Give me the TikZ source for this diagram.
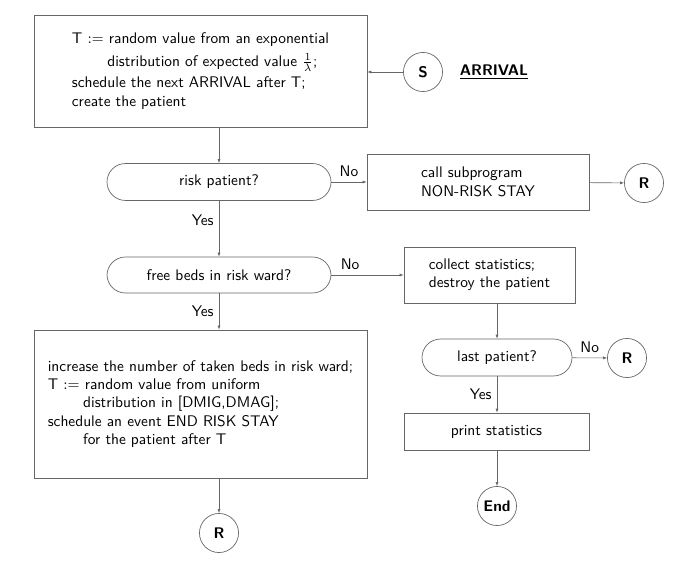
\documentclass[tikz,border=0pt]{standalone}
\usepackage{amsmath}
\usepackage{tikz}
\usetikzlibrary{calc}
\usetikzlibrary{arrows.meta}

\tikzset{
  every node/.style = {font = \sffamily},
  link/.style = {draw = black!60, line width = .4pt},
  arr/.style = {link, -{Latex[length = 2.6pt, width = 2pt]}},
  block/.style = {draw = black!60, line width = .45pt, rectangle,
    align = left, inner sep = 0pt},
  query/.style = {block, rounded corners = 12pt, align = center,
    minimum height = 24pt},
  connector/.style = {draw = black!60, line width = .45pt, circle,
    minimum size = 25.4pt, inner sep = 0pt, font = \sffamily\bfseries}
}

\begin{document}
\begin{tikzpicture}[x = .65pt, y = -.65pt]
  \useasboundingbox (0,0) rectangle (683,563);

% arrival event
  \node[block, minimum width = 216.4pt, minimum height = 72.8pt] (arrival) at (200.5,71)
    {T $:=$ random value from an exponential\\[2.6pt]
     \hspace*{23pt}distribution of expected value $\frac{1}{\lambda}$;\\[1.8pt]
     schedule the next ARRIVAL after T;\\
     create the patient};
  \node[connector] (start) at (423,72) {S};
  \node (title) at (494,72) {\underline{\textbf{ARRIVAL}}};
  \draw[arr] (start) -- (start -| arrival.east);

% first test
  \node[query, minimum width = 145.6pt] (risk) at (219,182) {risk patient?};
  \draw[arr] (risk |- arrival.south) -- (risk);
  \node[block, minimum width = 144.3pt, minimum height = 36.4pt] (nonrisk) at (478,182)
    {call subprogram\\NON-RISK STAY};
  \node[connector] (ret1) at (644,183) {R};
  \draw[arr] (risk) -- (nonrisk) node[midway, above] {No};
  \draw[arr] (nonrisk) -- (ret1);

% second test
  \node[query, minimum width = 145.6pt, minimum height = 23.4pt] (beds) at (219,275)
    {free beds in risk ward?};
  \draw[arr] (risk) -- (beds) node[pos = .34, left] {Yes};
  \node[block, minimum width = 111.2pt, minimum height = 36.4pt] (collect) at (489.5,275)
    {collect statistics;\\destroy the patient};
  \draw[arr] (beds) -- (collect) node[pos = .26, above] {No};

% risk stay
  \node[block, minimum width = 216.4pt, minimum height = 96.2pt] (stay) at (200.5,404)
    {increase the number of taken beds in risk ward;\\
     T $:=$ random value from uniform\\
     \hspace*{23pt}distribution in [DMIG,DMAG];\\
     schedule an event END RISK STAY\\
     \hspace*{23pt}for the patient after T};
  \draw[arr] (beds) -- (beds |- stay.north) node[midway, left] {Yes};
  \node[connector] (ret2) at (219,533) {R};
  \draw[arr] (ret2 |- stay.south) -- (ret2);

% last patient
  \node[query, minimum width = 97.5pt] (last) at (497,357.5) {last patient?};
  \draw[arr] (last |- collect.south) -- (last);
  \node[connector] (ret3) at (627,358) {R};
  \draw[arr] (last) -- (ret3) node[midway, above] {No};
  \node[block, minimum width = 120.3pt, minimum height = 24pt, align = center] (print)
    at (496.5,431.5) {print statistics};
  \draw[arr] (last) -- (last |- print.north) node[midway, left] {Yes};
  \node[connector] (stop) at (497,506) {End};
  \draw[arr] (stop |- print.south) -- (stop);

\end{tikzpicture}
\end{document}
